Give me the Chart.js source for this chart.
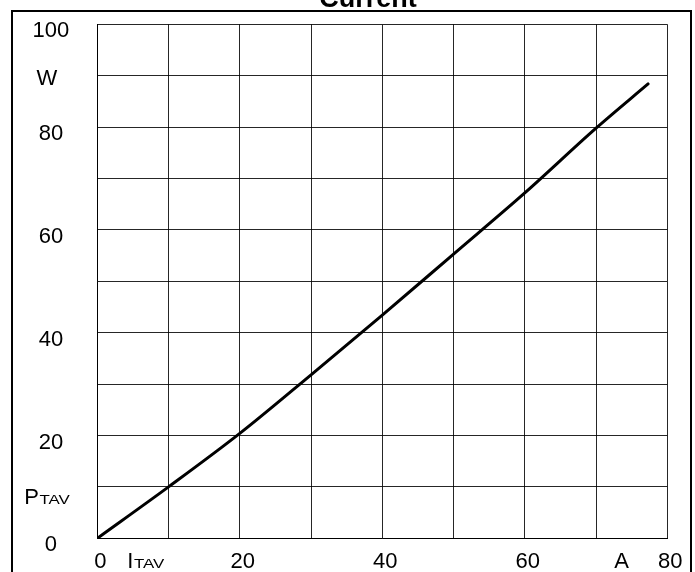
<!DOCTYPE html>
<html>
<head>
<meta charset="utf-8">
<script src="https://cdn.jsdelivr.net/npm/chart.js@4/dist/chart.umd.min.js"></script>
<style>
  html, body { margin: 0; padding: 0; background: #fff; }
  canvas { display: block; }
</style>
</head>
<body>
<canvas id="c" width="695" height="572"></canvas>
<script>
// ---- data ----
const currentA = [0, 10, 20, 30, 40, 50, 60, 70, 77.3];
const powerW   = [0, 10, 20.4, 31.8, 43.4, 55.3, 67.2, 79.8, 88.4];
const xTickLabels = { 0: '0', 20: '20', 40: '40', 60: '60', 80: '80' };
const yTickLabels = { 0: '0', 20: '20', 40: '40', 60: '60', 80: '80', 100: '100' };
const xUnitLabels = [ { value: 6.8, main: 'I', sub: 'TAV' }, { value: 73.6, main: 'A', sub: '' } ];
const yUnitLabels = [ { value: 89.7, main: 'W', sub: '' }, { value: 8.2, main: 'P', sub: 'TAV' } ];
const titleText = 'Current';

const FONT = '"Liberation Sans", Arial, sans-serif';
const SUB_STRETCH = 1.25;
const SUB_FONT = '13.5px ' + FONT;

function drawComposite(ctx, item, cx, cy) {
  ctx.save();
  ctx.fillStyle = '#000';
  ctx.textBaseline = 'alphabetic';
  ctx.textAlign = 'left';
  ctx.font = '22px ' + FONT;
  const wMain = ctx.measureText(item.main).width;
  ctx.font = SUB_FONT;
  const gap = item.sub ? 0.5 : 0;
  const wSub = item.sub ? ctx.measureText(item.sub).width * SUB_STRETCH : 0;
  const total = wMain + gap + wSub;
  const x0 = cx - total / 2;
  const baseline = cy + 8;
  ctx.font = '22px ' + FONT;
  ctx.fillText(item.main, x0, baseline);
  if (item.sub) {
    ctx.font = SUB_FONT;
    ctx.translate(x0 + wMain + gap, baseline);
    ctx.scale(SUB_STRETCH, 1);
    ctx.fillText(item.sub, 0, 0);
  }
  ctx.restore();
}

function zeroPad(s) {
  s.paddingTop = 0; s.paddingBottom = 0; s.paddingLeft = 0; s.paddingRight = 0;
}

const decor = {
  id: 'decor',
  beforeDraw(chart) {
    const ctx = chart.ctx;
    ctx.save();
    ctx.fillStyle = '#fff';
    ctx.fillRect(0, 0, chart.width, chart.height);
    ctx.strokeStyle = '#000';
    ctx.lineWidth = 2;
    ctx.strokeRect(12, 11, 679, 620);
    ctx.restore();
  },
  afterDraw(chart) {
    const ctx = chart.ctx;
    const xs = chart.scales.x, ys = chart.scales.y;
    ctx.save();
    ctx.fillStyle = '#000';
    ctx.font = 'bold 27px ' + FONT;
    ctx.textAlign = 'center';
    ctx.textBaseline = 'alphabetic';
    ctx.fillText(titleText, 368, 7);
    ctx.restore();
    yUnitLabels.forEach(it => drawComposite(ctx, it, 47, ys.getPixelForValue(it.value)));
    xUnitLabels.forEach(it => drawComposite(ctx, it, xs.getPixelForValue(it.value), 560));
  }
};

new Chart(document.getElementById('c'), {
  type: 'line',
  data: {
    datasets: [{
      data: currentA.map((x, i) => ({ x: x, y: powerW[i] })),
      borderColor: '#000',
      borderWidth: 3,
      pointRadius: 0,
      cubicInterpolationMode: 'monotone',
      fill: false,
      borderCapStyle: 'round'
    }]
  },
  options: {
    responsive: false,
    animation: false,
    devicePixelRatio: 1,
    layout: { autoPadding: false, padding: { top: 24.3, right: 27.7, left: 0, bottom: 0 } },
    plugins: { legend: { display: false }, tooltip: { enabled: false }, title: { display: false } },
    scales: {
      x: {
        type: 'linear', min: 0, max: 80,
        afterFit(s) { s.height = 33.7; zeroPad(s); },
        grid: { color: 'rgba(0,0,0,0.85)', lineWidth: 1, drawTicks: false },
        border: { color: '#000', width: 1 },
        ticks: {
          stepSize: 10, autoSkip: false, maxRotation: 0, padding: 10, labelOffset: 3,
          color: '#000', font: { family: FONT, size: 22 },
          callback: v => (xTickLabels[v] !== undefined ? xTickLabels[v] : '')
        }
      },
      y: {
        type: 'linear', min: 0, max: 100,
        afterFit(s) { s.width = 97.3; zeroPad(s); },
        grid: { color: 'rgba(0,0,0,0.85)', lineWidth: 1, drawTicks: false },
        border: { color: '#000', width: 1 },
        ticks: {
          stepSize: 10, autoSkip: false, padding: 28, labelOffset: 7, crossAlign: 'center',
          color: '#000', font: { family: FONT, size: 22 },
          callback: v => (yTickLabels[v] !== undefined ? yTickLabels[v] : '')
        }
      }
    }
  },
  plugins: [decor]
});
</script>
</body>
</html>
